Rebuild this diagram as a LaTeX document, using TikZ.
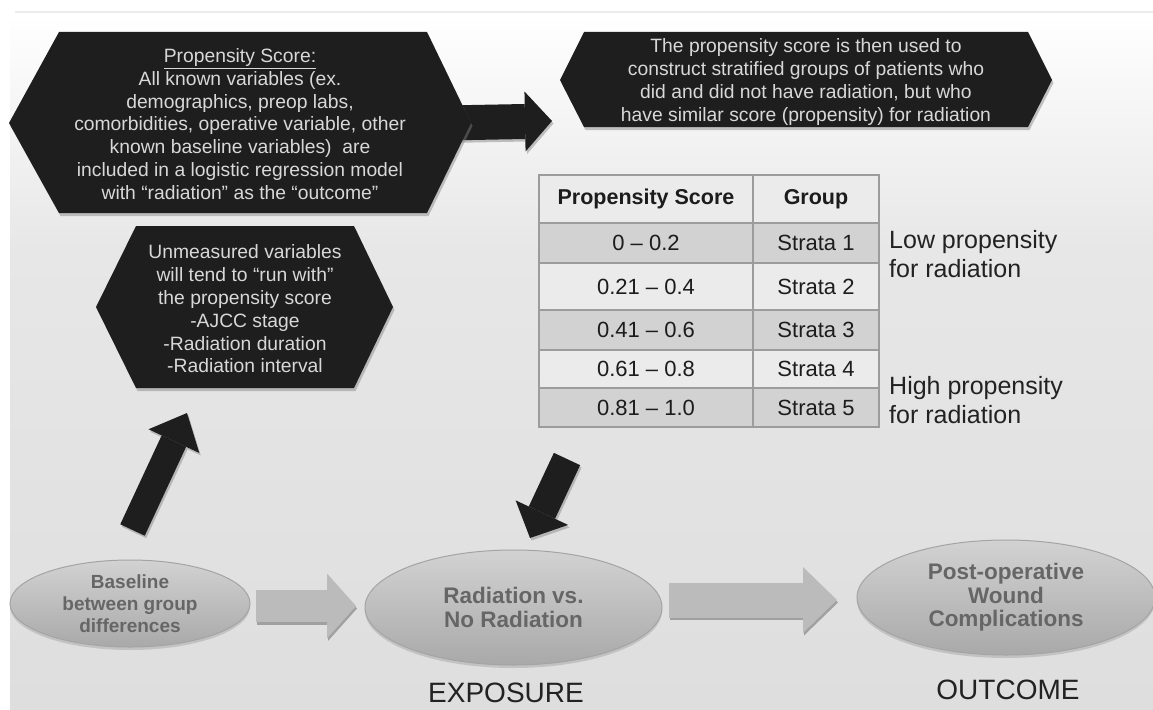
\documentclass[tikz,border=0pt]{standalone}
\usepackage{fontspec}
\setmainfont{Liberation Sans}
\usetikzlibrary{shapes.geometric,arrows.meta,shadows}
\definecolor{hexblack}{HTML}{1E1E1E}
\definecolor{hextxt}{HTML}{D8D8D8}
\definecolor{shadowgray}{HTML}{8A8A8A}
\definecolor{bgmid}{HTML}{E7E7E7}
\definecolor{bgbot}{HTML}{DEDEDE}
\definecolor{topline}{HTML}{ECECEC}
\definecolor{tblline}{HTML}{9C9C9C}
\definecolor{lightrow}{HTML}{EBEBEB}
\definecolor{darkrow}{HTML}{D2D2D2}
\definecolor{tbltxt}{HTML}{1C1C1C}
\definecolor{elltop}{HTML}{D2D2D2}
\definecolor{ellbot}{HTML}{A9A9A9}
\definecolor{ellrim}{HTML}{A4A4A4}
\definecolor{elltxt}{HTML}{666666}
\definecolor{grayarrow}{HTML}{BBBBBB}
\definecolor{grayshadow}{HTML}{A0A0A0}
\definecolor{labeltxt}{HTML}{222222}
\begin{document}
\begin{tikzpicture}[x=1pt,y=-1pt,
  hexfill/.style={fill=hexblack, drop shadow={shadow xshift=1.5pt,shadow yshift=-3pt,opacity=0.45}},
  hextext/.style={text=hextxt, align=center, inner sep=0pt, font=\fontsize{19.3}{22.8}\selectfont},
  blockarrow/.style n args={4}{draw=#1, line width=#2, -{Triangle[length=#3,width=#4,line width=0pt]}},
  ell/.style={ellipse, draw=ellrim, line width=1pt, top color=elltop, bottom color=ellbot,
    drop shadow={shadow xshift=0pt,shadow yshift=-3pt,opacity=0.3},
    inner sep=0pt, align=center, text=elltxt},
  cell/.style={draw=tblline, line width=1.5pt, inner sep=0pt, text=tbltxt, font=\fontsize{22}{26}\selectfont},
  sidelabel/.style={anchor=west, align=left, text=labeltxt, inner sep=0pt, font=\fontsize{25}{28.5}\selectfont},
  biglabel/.style={anchor=base, text=labeltxt, inner sep=0pt, font=\fontsize{28}{32}\selectfont}
]
\useasboundingbox (0,0) rectangle (1153,709);
% background
\fill[white] (0,0) rectangle (1153,709);
\shade[top color=white, bottom color=bgmid] (10,14) rectangle (1153,250);
\shade[top color=bgmid, bottom color=bgbot] (10,250) rectangle (1153,709);
\draw[topline, line width=2pt] (15,12) -- (1153,12);

% connector end points
\coordinate (ra1) at (445,123);
\coordinate (ra2) at (552,121);
\coordinate (ua1) at (132.5,530);
\coordinate (ua2) at (187,413);
\coordinate (da1) at (567,459);
\coordinate (da2) at (530,538);
\coordinate (ga1a) at (256,606);
\coordinate (ga1b) at (356,606);
\coordinate (ga2a) at (669,600);
\coordinate (ga2b) at (837,600);

% right black arrow, drawn under the hexagons
\begin{scope}[transform canvas={shift={(1.5pt,-2.5pt)}}, opacity=0.5]
\draw[blockarrow={shadowgray}{35pt}{27pt}{60pt}] (ra1) -- (ra2);
\end{scope}
\draw[blockarrow={hexblack}{35pt}{27pt}{60pt}] (ra1) -- (ra2);

% hexagons
\path[hexfill] (9,123) -- (59,32) -- (427,32) -- (471,123) -- (427,213) -- (59,213) -- cycle;
\node[hextext] (ps) at (240,124) {\underline{Propensity Score:}\\All known variables (ex.\\demographics, preop labs,\\comorbidities, operative variable, other\\known baseline variables)\ \ are\\included in a logistic regression model\\with “radiation” as the “outcome”};

\path[hexfill] (560,80) -- (584,32) -- (1028,32) -- (1052,80) -- (1028,127) -- (584,127) -- cycle;
\node[hextext] (strat) at (806,82) {The propensity score is then used to\\construct stratified groups of patients who\\did and did not have radiation, but who\\have similar score (propensity) for radiation};

\path[hexfill] (96,307) -- (136,226) -- (354,226) -- (393,307) -- (354,388) -- (136,388) -- cycle;
\node[hextext] (unm) at (245,309) {Unmeasured variables\\will tend to “run with”\\the propensity score\\-AJCC stage\\-Radiation duration\\-Radiation interval};

% table
\node[cell, fill=lightrow, minimum width=214pt, minimum height=48pt, font=\bfseries\fontsize{21.5}{26}\selectfont] (t00) at (646,199) {Propensity Score};
\node[cell, fill=lightrow, minimum width=126pt, minimum height=48pt, font=\bfseries\fontsize{21.5}{26}\selectfont] (t01) at (816,199) {Group};
\node[cell, fill=darkrow, minimum width=214pt, minimum height=40pt] (t10) at (646,243) {0 – 0.2};
\node[cell, fill=darkrow, minimum width=126pt, minimum height=40pt] (t11) at (816,243) {Strata 1};
\node[cell, fill=lightrow, minimum width=214pt, minimum height=47pt] (t20) at (646,286.5) {0.21 – 0.4};
\node[cell, fill=lightrow, minimum width=126pt, minimum height=47pt] (t21) at (816,286.5) {Strata 2};
\node[cell, fill=darkrow, minimum width=214pt, minimum height=40pt] (t30) at (646,330) {0.41 – 0.6};
\node[cell, fill=darkrow, minimum width=126pt, minimum height=40pt] (t31) at (816,330) {Strata 3};
\node[cell, fill=lightrow, minimum width=214pt, minimum height=38pt] (t40) at (646,369) {0.61 – 0.8};
\node[cell, fill=lightrow, minimum width=126pt, minimum height=38pt] (t41) at (816,369) {Strata 4};
\node[cell, fill=darkrow, minimum width=214pt, minimum height=39pt] (t50) at (646,407.5) {0.81 – 1.0};
\node[cell, fill=darkrow, minimum width=126pt, minimum height=39pt] (t51) at (816,407.5) {Strata 5};

\node[sidelabel] (low) at (889,254) {Low propensity\\for radiation};
\node[sidelabel] (high) at (889,400) {High propensity\\for radiation};

% ellipses
\node[ell, minimum width=240pt, minimum height=87pt, font=\bfseries\fontsize{19}{22}\selectfont] (base) at (130,603.5) {Baseline\\between group\\differences};
\node[ell, minimum width=297pt, minimum height=115pt, font=\bfseries\fontsize{22.5}{24.5}\selectfont] (rad) at (513.5,607.5) {Radiation vs.\\No Radiation};
\node[ell, minimum width=298pt, minimum height=115pt, font=\bfseries\fontsize{22.5}{23.5}\selectfont] (post) at (1006,597.5) {Post-operative\\Wound\\Complications};

\node[biglabel] (expo) at (506,702) {EXPOSURE};
\node[biglabel] (outc) at (1008,699) {OUTCOME};

% other black arrows (with shadow)
\begin{scope}[transform canvas={shift={(1.5pt,-2.5pt)}}, opacity=0.5]
\draw[blockarrow={shadowgray}{27pt}{31pt}{56pt}] (ua1) -- (ua2);
\draw[blockarrow={shadowgray}{29pt}{28pt}{58pt}] (da1) -- (da2);
\end{scope}
\draw[blockarrow={hexblack}{27pt}{31pt}{56pt}] (ua1) -- (ua2);
\draw[blockarrow={hexblack}{29pt}{28pt}{58pt}] (da1) -- (da2);

% gray arrows
\begin{scope}[transform canvas={shift={(1pt,-2.5pt)}}]
\draw[blockarrow={grayshadow}{32pt}{29pt}{65pt}] (ga1a) -- (ga1b);
\draw[blockarrow={grayshadow}{35pt}{34pt}{66pt}] (ga2a) -- (ga2b);
\end{scope}
\draw[blockarrow={grayarrow}{32pt}{29pt}{65pt}] (ga1a) -- (ga1b);
\draw[blockarrow={grayarrow}{35pt}{34pt}{66pt}] (ga2a) -- (ga2b);
\end{tikzpicture}
\end{document}
